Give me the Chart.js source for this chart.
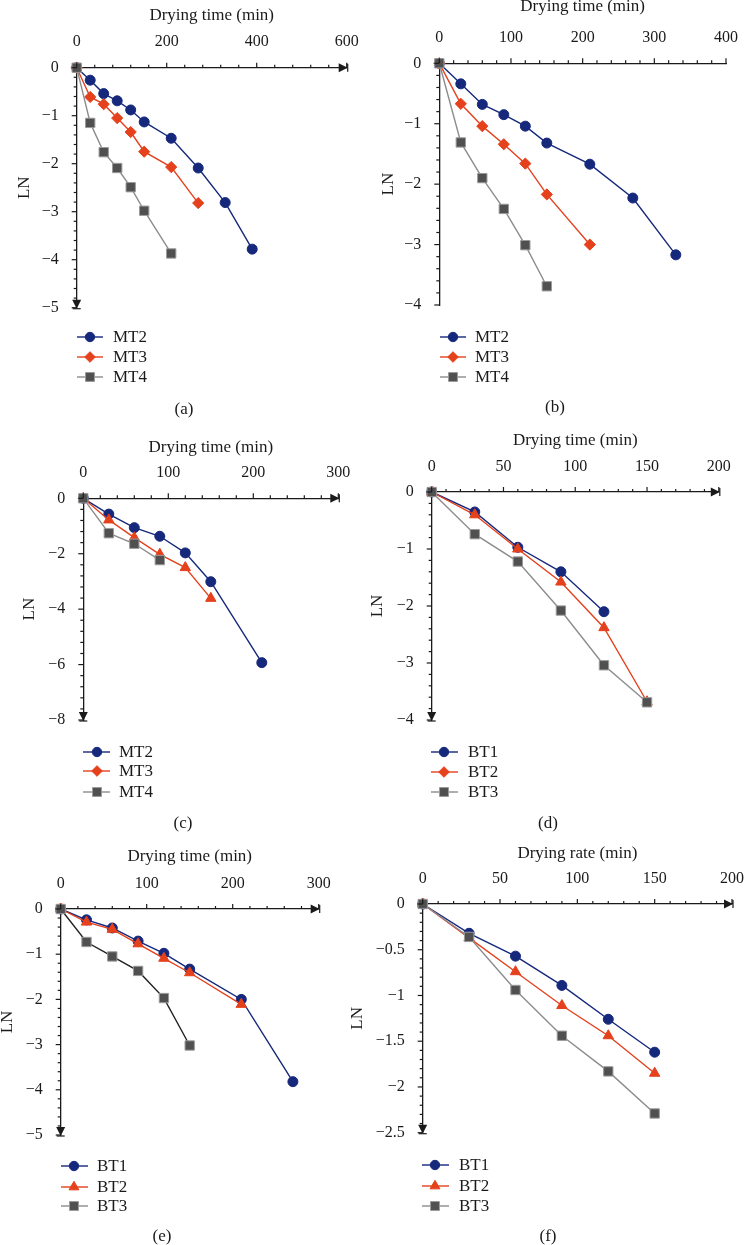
<!DOCTYPE html>
<html>
<head>
<meta charset="utf-8">
<script src="https://cdn.jsdelivr.net/npm/chart.js@4.4.1/dist/chart.umd.min.js"></script>
<style>
  html, body { margin: 0; padding: 0; background: #fff; }
  body { width: 752px; height: 1245px; position: relative; overflow: hidden; }
  canvas { position: absolute; }
</style>
</head>
<body>
<canvas id="pa"></canvas>
<canvas id="pb"></canvas>
<canvas id="pc"></canvas>
<canvas id="pd"></canvas>
<canvas id="pe"></canvas>
<canvas id="pf"></canvas>
<script>
// sampling times (min), shared by every series
var times = [0, 30, 60, 90, 120, 150, 210, 270, 330, 390];

// (a)
var mt2A = [0, -0.26, -0.54, -0.69, -0.88, -1.13, -1.47, -2.09, -2.81, -3.78];
var mt3A = [0, -0.61, -0.76, -1.05, -1.34, -1.75, -2.07, -2.82];
var mt4A = [0, -1.15, -1.76, -2.09, -2.49, -2.98, -3.87];
// (b)
var mt2B = [0, -0.34, -0.68, -0.85, -1.04, -1.32, -1.67, -2.23, -3.17];
var mt3B = [0, -0.67, -1.04, -1.34, -1.66, -2.17, -3.0];
var mt4B = [0, -1.31, -1.9, -2.41, -3.01, -3.69];
// (c)
var mt2C = [0, -0.57, -1.06, -1.37, -1.97, -3.01, -5.93];
var mt3C = [0, -0.78, -1.42, -2.02, -2.5, -3.61];
var mt4C = [0, -1.26, -1.64, -2.23];
// (d)
var bt1D = [0, -0.35, -0.97, -1.4, -2.1];
var bt2D = [0, -0.4, -1.0, -1.58, -2.38, -3.68];
var bt3D = [0, -0.74, -1.22, -2.08, -3.04, -3.69];
// (e)
var bt1E = [0, -0.24, -0.42, -0.71, -0.98, -1.33, -2.0, -3.82];
var bt2E = [0, -0.29, -0.45, -0.77, -1.09, -1.41, -2.11];
var bt3E = [0, -0.73, -1.05, -1.37, -1.97, -3.02];
// (f)
var bt1F = [0, -0.32, -0.57, -0.89, -1.26, -1.62];
var bt2F = [0, -0.37, -0.74, -1.11, -1.44, -1.85];
var bt3F = [0, -0.36, -0.94, -1.44, -1.83, -2.29];

var SERIF = '"Liberation Serif", "DejaVu Serif", serif';
var INK = '#1a1a1a';
var BLUE = '#15287c', RED = '#e4411c', GREY = '#505050', GREY_LINE = '#8c8c8c';

var MARK = {
  circle:   { pointStyle: 'circle',   radius: 5 },
  diamond:  { pointStyle: 'rectRot',  radius: 5.6 },
  square:   { pointStyle: 'rect',     radius: 6.6 },
  triangle: { pointStyle: 'triangle', radius: 6 }
};

function series(label, values, mark, legendMark, fill, line, order, legendLine) {
  return {
    label: label,
    data: values.map(function (v, i) { return { x: times[i], y: v }; }),
    showLine: true,
    borderColor: line,
    borderWidth: 1.4,
    pointStyle: MARK[mark].pointStyle,
    pointRadius: MARK[mark].radius,
    pointBackgroundColor: fill,
    pointBorderColor: fill === GREY ? '#9a9a9a' : fill,
    pointBorderWidth: 1,
    clip: false,
    order: order,
    legendMark: legendMark,
    legendLine: legendLine || line
  };
}

function drawMark(ctx, mark, x, y) {
  var m = MARK[mark];
  if (Chart.helpers && Chart.helpers.drawPoint) {
    Chart.helpers.drawPoint(ctx, { pointStyle: m.pointStyle, radius: m.radius - 0.3, rotation: 0, borderWidth: 1 }, x, y);
    return;
  }
  ctx.beginPath();
  ctx.arc(x, y, m.radius, 0, Math.PI * 2);
  ctx.fill();
}

function minus(v) {
  return v === 0 ? '0' : '\u2212' + Math.abs(v);
}

function makePanel(id, cfg) {
  var canvas = document.getElementById(id);
  var cl = cfg.canvas[0], ct = cfg.canvas[1], cw = cfg.canvas[2], ch = cfg.canvas[3];
  canvas.style.left = cl + 'px';
  canvas.style.top = ct + 'px';
  canvas.width = cw;
  canvas.height = ch;
  var aL = cfg.area[0], aT = cfg.area[1], aR = cfg.area[2], aB = cfg.area[3];
  var scaleLeft = cfg.lnX - 10.2;
  var scaleTop = cfg.titleY - 10.2;

  var decor = {
    id: 'decor',
    afterDraw: function (chart) {
      var ctx = chart.ctx, area = chart.chartArea;
      var x = chart.scales.x, y = chart.scales.y;
      ctx.save();
      ctx.strokeStyle = INK;
      ctx.fillStyle = INK;
      ctx.lineWidth = 1.2;
      // major + minor ticks (minor = major / 5)
      var xm = cfg.xStep / 5, n = Math.round(cfg.xMax / xm);
      for (var i = 0; i <= n; i++) {
        var px = x.getPixelForValue(i * xm);
        var len = i % 5 === 0 ? 5 : 3;
        ctx.beginPath();
        ctx.moveTo(px, area.top);
        ctx.lineTo(px, area.top - len);
        ctx.stroke();
      }
      var ym = cfg.yStep / 5, k = Math.round(-cfg.yMin / ym);
      for (var j = 0; j <= k; j++) {
        var py = y.getPixelForValue(-j * ym);
        var l2 = j % 5 === 0 ? 5 : 3;
        ctx.beginPath();
        ctx.moveTo(area.left, py);
        ctx.lineTo(area.left - l2, py);
        ctx.stroke();
      }
      if (cfg.arrows) {
        ctx.beginPath();
        ctx.moveTo(area.right + 1, area.top);
        ctx.lineTo(area.right - 8, area.top - 4.5);
        ctx.lineTo(area.right - 8, area.top + 4.5);
        ctx.closePath();
        ctx.fill();
        ctx.beginPath();
        ctx.moveTo(area.right + 1, area.top - 4);
        ctx.lineTo(area.right + 1, area.top + 4);
        ctx.stroke();
        ctx.beginPath();
        ctx.moveTo(area.left, area.bottom + 1);
        ctx.lineTo(area.left - 4.5, area.bottom - 8);
        ctx.lineTo(area.left + 4.5, area.bottom - 8);
        ctx.closePath();
        ctx.fill();
        ctx.beginPath();
        ctx.moveTo(area.left - 4, area.bottom + 1);
        ctx.lineTo(area.left + 4, area.bottom + 1);
        ctx.stroke();
      }
      // legend
      ctx.font = '17px ' + SERIF;
      ctx.textBaseline = 'middle';
      ctx.textAlign = 'left';
      chart.data.datasets.forEach(function (ds, idx) {
        var ry = cfg.legend.rows[idx] - ct;
        ctx.strokeStyle = ds.legendLine;
        ctx.lineWidth = 1.4;
        ctx.beginPath();
        ctx.moveTo(cfg.legend.line[0] - cl, ry);
        ctx.lineTo(cfg.legend.line[1] - cl, ry);
        ctx.stroke();
        ctx.fillStyle = ds.pointBackgroundColor;
        ctx.strokeStyle = ds.pointBorderColor;
        ctx.lineWidth = 1;
        drawMark(ctx, ds.legendMark, cfg.legend.marker - cl, ry);
        ctx.fillStyle = INK;
        ctx.fillText(ds.label, cfg.legend.text - cl, ry + 1);
      });
      // caption
      ctx.textAlign = 'center';
      ctx.fillText(cfg.caption[2], cfg.caption[0] - cl, cfg.caption[1] - ct);
      ctx.restore();
    }
  };

  return new Chart(canvas, {
    type: 'scatter',
    data: { datasets: cfg.datasets },
    options: {
      responsive: false,
      animation: false,
      devicePixelRatio: 1,
      layout: {
        padding: { left: scaleLeft - cl, top: scaleTop - ct, right: cl + cw - aR, bottom: ct + ch - aB }
      },
      plugins: { legend: { display: false }, tooltip: { enabled: false } },
      scales: {
        x: {
          type: 'linear',
          position: 'top',
          min: 0,
          max: cfg.xMax,
          ticks: { stepSize: cfg.xStep, autoSkip: false, maxRotation: 0, padding: 8, color: INK, font: { family: SERIF, size: 16 } },
          grid: { display: false },
          border: { color: INK, width: 1.3 },
          title: { display: true, text: cfg.xTitle, color: INK, padding: 0, font: { family: SERIF, size: 17, lineHeight: 1.2 } },
          afterFit: function (s) { s.height = aT - scaleTop; }
        },
        y: {
          type: 'linear',
          position: 'left',
          min: cfg.yMin,
          max: 0,
          ticks: { stepSize: cfg.yStep, autoSkip: false, padding: 10, color: INK, font: { family: SERIF, size: 16 }, callback: minus },
          grid: { display: false },
          border: { color: INK, width: 1.3 },
          title: { display: true, text: 'LN', color: INK, padding: 0, font: { family: SERIF, size: 17, lineHeight: 1.2 } },
          afterFit: function (s) { s.width = aL - scaleLeft; }
        }
      }
    },
    plugins: [decor]
  });
}

makePanel('pa', {
  canvas: [0, 0, 376, 420], area: [76.7, 67.7, 346.7, 307.7],
  xMax: 600, xStep: 200, yMin: -5, yStep: 1, titleY: 16, lnX: 25, arrows: true,
  xTitle: 'Drying time (min)',
  legend: { line: [77, 103], marker: 90, text: 113, rows: [337, 357, 377] },
  caption: [184, 410, '(a)'],
  datasets: [
    series('MT2', mt2A, 'circle', 'circle', BLUE, BLUE, 3),
    series('MT3', mt3A, 'diamond', 'diamond', RED, RED, 2),
    series('MT4', mt4A, 'square', 'square', GREY, GREY_LINE, 1)
  ]
});

makePanel('pb', {
  canvas: [376, -10, 376, 430], area: [439.3, 63.3, 726, 305],
  xMax: 400, xStep: 100, yMin: -4, yStep: 1, titleY: 7, lnX: 389, arrows: false,
  xTitle: 'Drying time (min)',
  legend: { line: [440, 466], marker: 453, text: 475, rows: [337, 357, 377] },
  caption: [555, 408, '(b)'],
  datasets: [
    series('MT2', mt2B, 'circle', 'circle', BLUE, BLUE, 3),
    series('MT3', mt3B, 'diamond', 'diamond', RED, RED, 2),
    series('MT4', mt4B, 'square', 'square', GREY, GREY_LINE, 1)
  ]
});

makePanel('pc', {
  canvas: [0, 420, 376, 420], area: [83.3, 498.3, 338.3, 720],
  xMax: 300, xStep: 100, yMin: -8, yStep: 2, titleY: 448, lnX: 30, arrows: true,
  xTitle: 'Drying time (min)',
  legend: { line: [83, 110], marker: 97, text: 119, rows: [752, 771, 792] },
  caption: [183, 824, '(c)'],
  datasets: [
    series('MT2', mt2C, 'circle', 'circle', BLUE, BLUE, 3),
    series('MT3', mt3C, 'triangle', 'diamond', RED, RED, 2),
    series('MT4', mt4C, 'square', 'square', GREY, GREY_LINE, 1)
  ]
});

makePanel('pd', {
  canvas: [360, 420, 392, 420], area: [431.7, 492, 718.8, 720],
  xMax: 200, xStep: 50, yMin: -4, yStep: 1, titleY: 441, lnX: 378, arrows: true,
  xTitle: 'Drying time (min)',
  legend: { line: [431, 458], marker: 444, text: 468, rows: [752, 772, 792] },
  caption: [548, 824, '(d)'],
  datasets: [
    series('BT1', bt1D, 'circle', 'circle', BLUE, BLUE, 3),
    series('BT2', bt2D, 'triangle', 'diamond', RED, RED, 2),
    series('BT3', bt3D, 'square', 'square', GREY, GREY_LINE, 1)
  ]
});

makePanel('pe', {
  canvas: [-10, 840, 386, 405], area: [60.7, 909, 318.7, 1135],
  xMax: 300, xStep: 100, yMin: -5, yStep: 1, titleY: 857, lnX: 8, arrows: true,
  xTitle: 'Drying time (min)',
  legend: { line: [61, 88], marker: 74, text: 97, rows: [1166, 1187, 1206] },
  caption: [162, 1237, '(e)'],
  datasets: [
    series('BT1', bt1E, 'circle', 'circle', BLUE, BLUE, 3),
    series('BT2', bt2E, 'triangle', 'triangle', RED, RED, 2),
    series('BT3', bt3E, 'square', 'square', GREY, '#222222', 1, GREY_LINE)
  ]
});

makePanel('pf', {
  canvas: [340, 840, 412, 405], area: [422.7, 904, 739, 1132.7],
  xMax: 200, xStep: 50, yMin: -2.5, yStep: 0.5, titleY: 854, lnX: 358, arrows: true,
  xTitle: 'Drying rate (min)',
  legend: { line: [422, 449], marker: 435, text: 459, rows: [1165, 1186, 1206] },
  caption: [548, 1237, '(f)'],
  datasets: [
    series('BT1', bt1F, 'circle', 'circle', BLUE, BLUE, 3),
    series('BT2', bt2F, 'triangle', 'triangle', RED, RED, 2),
    series('BT3', bt3F, 'square', 'square', GREY, GREY_LINE, 1)
  ]
});
</script>
</body>
</html>
